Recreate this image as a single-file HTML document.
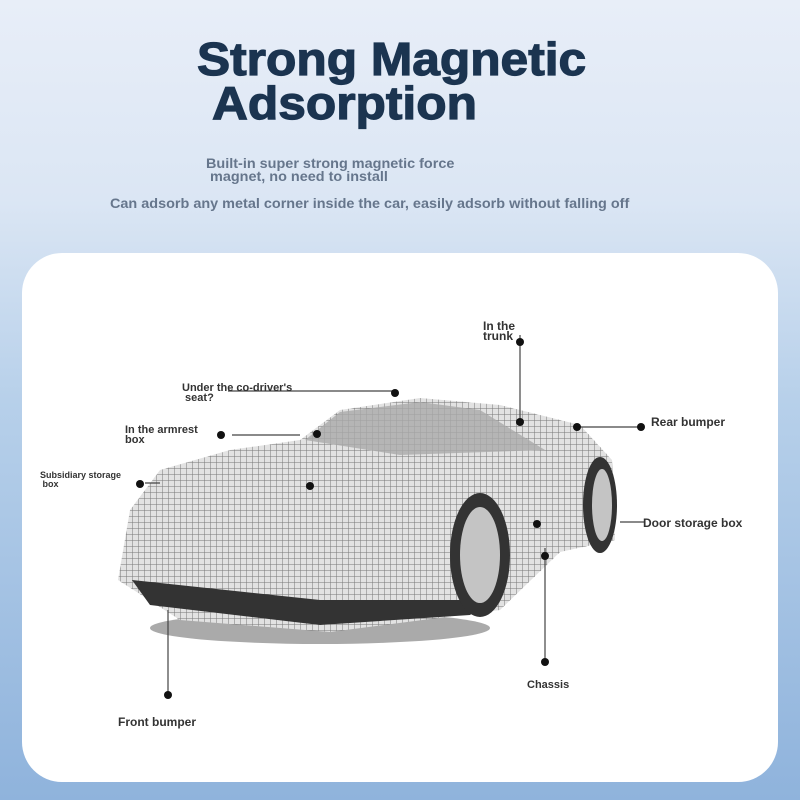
<!DOCTYPE html>
<html><head><style>
body{margin:0;width:800px;height:800px;overflow:hidden;background:linear-gradient(180deg,#e8eef8 0%,#dbe6f4 25%,#b7d0ea 50%,#8fb3dc 100%);font-family:"Liberation Sans",sans-serif;position:relative}
.t{position:absolute;font-weight:bold;color:#1b3450;font-size:46px;line-height:46px;transform-origin:0 0;transform:scaleX(1.08);-webkit-text-stroke:1.2px #1b3450}
.s{position:absolute;font-weight:bold;color:#66768c;font-size:14px;line-height:14px;transform-origin:0 0;transform:scaleX(1.03)}
.panel{position:absolute;left:22px;top:253px;width:756px;height:529px;background:#fff;border-radius:40px}
.l{position:absolute;font-weight:bold;color:#333;font-size:11px;line-height:10px}
</style></head><body>
<div class="t" style="left:197px;top:36px">Strong Magnetic</div>
<div class="t" style="left:212px;top:80px">Adsorption</div>
<div class="s" style="left:206px;top:156px">Built-in super strong magnetic force</div>
<div class="s" style="left:210px;top:169px">magnet, no need to install</div>
<div class="s" style="left:110px;top:196px">Can adsorb any metal corner inside the car, easily adsorb without falling off</div>
<div class="panel"></div>
<svg style="position:absolute;left:0;top:0" width="800" height="800">
<defs><pattern id="g" width="6" height="6" patternUnits="userSpaceOnUse"><rect width="6" height="6" fill="#e2e2e2"/><path d="M0 0H6M0 0V6" stroke="#777" stroke-width="1"/></pattern></defs>
<ellipse cx="320" cy="628" rx="170" ry="16" fill="#555" opacity=".5"/>
<path d="M118 580 L130 510 L160 470 L230 450 L300 440 L340 410 L420 398 L500 405 L580 425 L612 460 L615 540 L560 552 L500 610 L330 632 L180 620 Z" fill="url(#g)"/>
<path d="M305 440 L340 412 L420 402 L480 410 L545 450 L400 455 Z" fill="#aaa" opacity=".8"/>
<path d="M132 580 L320 600 L490 600 L470 615 L320 625 L150 605Z" fill="#333"/>
<ellipse cx="480" cy="555" rx="30" ry="62" fill="#333"/>
<ellipse cx="480" cy="555" rx="20" ry="48" fill="#c4c4c4"/>
<ellipse cx="600" cy="505" rx="17" ry="48" fill="#333"/>
<ellipse cx="602" cy="505" rx="10" ry="36" fill="#c4c4c4"/>
<g stroke="#444" stroke-width="1.2" fill="none">
<path d="M232 435H300M228 391H395M520 335V420M575 427H640M620 522H645M545 548V662M168 610V695M145 483H160"/>
</g>
<g fill="#111">
<circle cx="221" cy="435" r="4"/><circle cx="395" cy="393" r="4"/><circle cx="520" cy="342" r="4"/><circle cx="520" cy="422" r="4"/><circle cx="577" cy="427" r="4"/><circle cx="641" cy="427" r="4"/><circle cx="140" cy="484" r="4"/><circle cx="310" cy="486" r="4"/><circle cx="537" cy="524" r="4"/><circle cx="545" cy="556" r="4"/><circle cx="545" cy="662" r="4"/><circle cx="168" cy="695" r="4"/><circle cx="317" cy="434" r="4"/>
</g>
</svg>
<div class="l" style="left:483px;top:321px;font-size:12px">In the<br>trunk</div>
<div class="l" style="left:182px;top:383px">Under the co-driver's<br>&nbsp;seat?</div>
<div class="l" style="left:125px;top:425px">In the armrest<br>box</div>
<div class="l" style="left:40px;top:471px;font-size:9px;line-height:9px">Subsidiary storage<br>&nbsp;box</div>
<div class="l" style="left:651px;top:417px;font-size:12px">Rear bumper</div>
<div class="l" style="left:643px;top:518px;font-size:12px">Door storage box</div>
<div class="l" style="left:527px;top:680px">Chassis</div>
<div class="l" style="left:118px;top:717px;font-size:12px">Front bumper</div>
</body></html>
